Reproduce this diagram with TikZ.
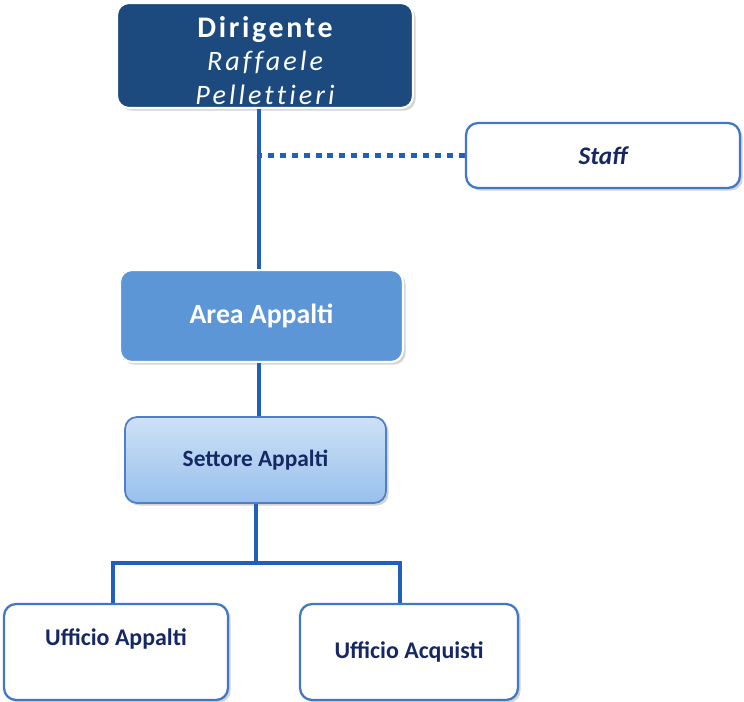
\documentclass[tikz,border=0pt]{standalone}
\usepackage{fontspec}
\setmainfont{Carlito}
\usetikzlibrary{positioning,calc,shadows}
\definecolor{navy}{RGB}{28,74,126}
\definecolor{areablue}{RGB}{92,150,214}
\definecolor{lineblue}{RGB}{32,96,188}
\definecolor{txtdark}{RGB}{22,40,100}
\definecolor{settop}{RGB}{205,225,246}
\definecolor{setbot}{RGB}{152,192,236}

\begin{document}
\begin{tikzpicture}[x=0.02cm,y=-0.02cm,
    box/.style={rounded corners=0.24cm, inner sep=0pt, align=center,
      drop shadow={shadow xshift=1.5pt, shadow yshift=-1.5pt, opacity=0.35}},
    darkbox/.style={box, fill=navy, draw=white, line width=1.2pt},
    dirtext/.style={inner sep=0pt, align=center, text=white,
      font=\fontsize{16}{19}\selectfont},
    areabox/.style={box, fill=areablue, draw=white, line width=1.2pt, text=white,
      font=\bfseries\fontsize{15.8}{18}\selectfont},
    setbox/.style={box, top color=settop, bottom color=setbot, draw=lineblue!80,
      line width=1pt, text=txtdark, font=\bfseries\fontsize{13.3}{16}\selectfont},
    whitebox/.style={box, fill=white, draw=lineblue!85, line width=1.3pt,
      text=txtdark, font=\bfseries\fontsize{13.6}{16}\selectfont},
    conn/.style={draw=lineblue, line width=2.2pt},
    dots/.style={conn, line width=2.6pt, dash pattern=on 3.4pt off 3.4pt}]
  \useasboundingbox (0,0) rectangle (744,702);
  % boxes
  \node[darkbox, minimum width=5.92cm, minimum height=2.1cm] (dir) at (265,55.5) {};
  \node[dirtext] (dirname) at ($(dir.center)+(0,5)$)
    {{\addfontfeatures{LetterSpace=9}\bfseries\fontsize{17}{19}\selectfont Dirigente}\\
     {\addfontfeatures{LetterSpace=11,Ligatures=NoCommon}\itshape Raffaele}\\
     {\addfontfeatures{LetterSpace=11,Ligatures=NoCommon}\itshape Pellettieri}};
  \node[whitebox, minimum width=5.48cm, minimum height=1.3cm,
    font=\bfseries\itshape\fontsize{14.4}{16}\selectfont] (staff) at (603,155.5) {Staff};
  \node[areabox, minimum width=5.66cm, minimum height=1.84cm] (area) at (261.5,316) {Area Appalti};
  \node[setbox, minimum width=5.22cm, minimum height=1.72cm] (sett) at (255.5,460) {Settore Appalti};
  \node[whitebox, minimum width=4.48cm, minimum height=1.92cm, text depth=0.6cm] (uapp) at (116,652) {Ufficio Appalti};
  \node[whitebox, minimum width=4.36cm, minimum height=1.92cm] (uacq) at (409,652) {Ufficio Acquisti};
  % connectors
  \coordinate (trunk) at (259,0);
  \coordinate (split) at (256,563);
  \draw[conn] (dir.south -| trunk) -- (area.north -| trunk);
  \draw[dots] (staff.west) -- (staff.west -| trunk);
  \draw[conn] (area.south -| trunk) -- (sett.north -| trunk);
  \draw[conn] (sett.south -| split) -- (split);
  \draw[conn] ($(uapp.north)+(-3,0)$) |- (split) -| ($(uacq.north)+(-9,0)$);
\end{tikzpicture}
\end{document}
